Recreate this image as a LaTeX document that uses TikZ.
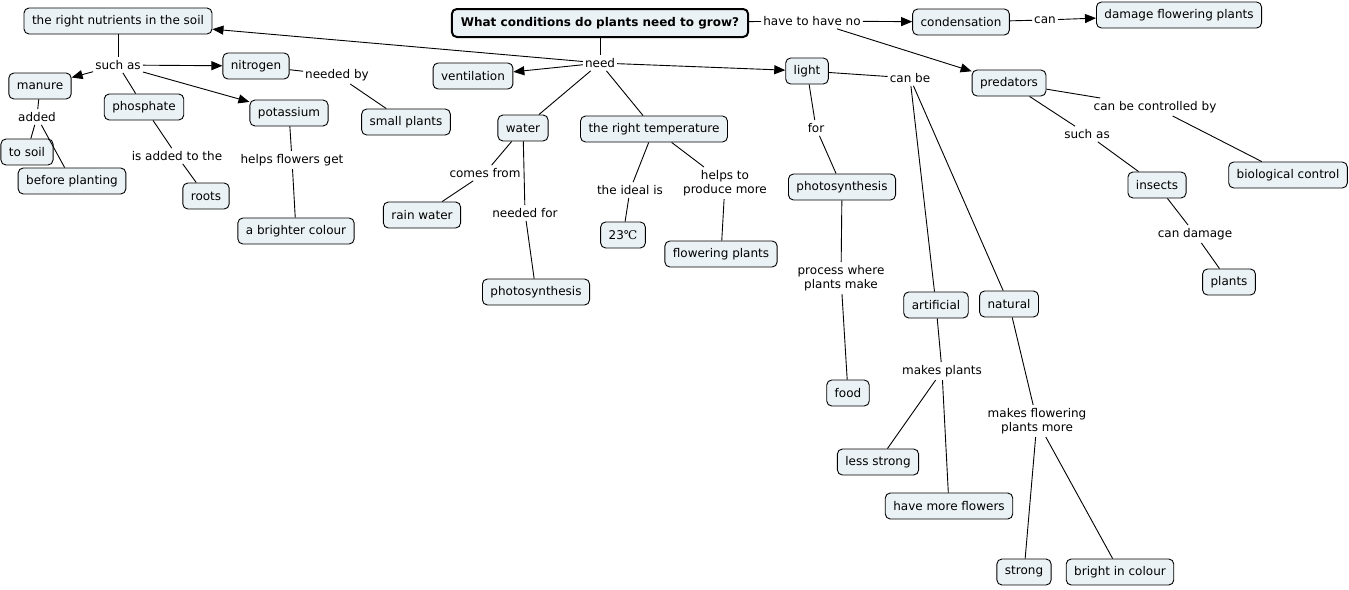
\documentclass[tikz,border=0pt]{standalone}
\usepackage{fontspec}
\setmainfont{DejaVu Sans}
\newfontfamily\degfont{DejaVu Serif}
\usetikzlibrary{arrows.meta}
\definecolor{boxfill}{HTML}{EBF2F5}
\tikzset{
  cbox/.style={draw=black, line width=0.9pt, fill=boxfill, rounded corners=5pt,
    inner xsep=8pt, minimum height=26pt, font=\fontsize{12}{14}\selectfont},
  rootbox/.style={cbox, line width=2pt, font=\fontsize{12}{14}\selectfont\bfseries, inner xsep=9pt, minimum height=28pt},
  lbl/.style={inner xsep=2pt, inner ysep=3pt, align=center, font=\fontsize{12}{14}\selectfont},
  link/.style={draw=black, line width=0.9pt},
  arr/.style={link, -{Triangle[length=11pt,width=9pt]}}
}
\begin{document}
\begin{tikzpicture}[x=1pt,y=-1pt]
\useasboundingbox (0,0) rectangle (1349,589);
% concepts
\node[rootbox] (root) at (600,23) {What conditions do plants need to grow?};
\node[cbox] (nutr) at (118,21) {the right nutrients in the soil};
\node[cbox] (cond) at (961,22) {condensation};
\node[cbox] (dmg) at (1179,15) {damage flowering plants};
\node[cbox] (vent) at (473,76) {ventilation};
\node[cbox] (light) at (807,71) {light};
\node[cbox] (pred) at (1009,83) {predators};
\node[cbox] (insects) at (1157,185) {insects};
\node[cbox] (bio) at (1288,175) {biological control};
\node[cbox] (plants) at (1229,282) {plants};
\node[cbox] (photoL) at (842,187) {photosynthesis};
\node[cbox] (food) at (848,393) {food};
\node[cbox] (art) at (936,305) {artificial};
\node[cbox] (nat) at (1009,304) {natural};
\node[cbox] (less) at (878,462) {less strong};
\node[cbox] (more) at (949,506) {have more flowers};
\node[cbox] (strong) at (1024,572) {strong};
\node[cbox] (bright) at (1120,572) {bright in colour};
\node[cbox] (water) at (523,128) {water};
\node[cbox] (temp) at (654,129) {the right temperature};
\node[cbox] (rain) at (422,215) {rain water};
\node[cbox] (photoW) at (536,292) {photosynthesis};
\node[cbox] (deg) at (623,235) {23{\degfont ℃}};
\node[cbox] (flow) at (721,254) {flowering plants};
\node[cbox] (manure) at (40,86) {manure};
\node[cbox] (nitro) at (256,66) {nitrogen};
\node[cbox] (small) at (406,122) {small plants};
\node[cbox] (phos) at (144,107) {phosphate};
\node[cbox] (pot) at (289,113) {potassium};
\node[cbox] (soil) at (27,152) {to soil};
\node[cbox] (before) at (72,181) {before planting};
\node[cbox] (roots) at (206,196) {roots};
\node[cbox] (bcol) at (296,231) {a brighter colour};
% linking phrases
\node[lbl] (need) at (600,63) {need};
\node[lbl] (hthn) at (812,21) {have to have no};
\node[lbl] (can) at (1045,20) {can};
\node[lbl] (canbe) at (910,78) {can be};
\node[lbl] (cbcb) at (1155,107) {can be controlled by};
\node[lbl] (suchP) at (1087,134) {such as};
\node[lbl] (candmg) at (1195,234) {can damage};
\node[lbl] (for) at (816,128) {for};
\node[lbl] (proc) at (841,278) {process where\\plants make};
\node[lbl] (mkp) at (942,371) {makes plants};
\node[lbl] (mkf) at (1037,421) {makes flowering\\plants more};
\node[lbl] (comes) at (485,173) {comes from};
\node[lbl] (neededfor) at (525,213) {needed for};
\node[lbl] (ideal) at (630,190) {the ideal is};
\node[lbl] (helps) at (725,183) {helps to\\produce more};
\node[lbl] (suchN) at (118,65) {such as};
\node[lbl] (added) at (37,117) {added};
\node[lbl] (neededby) at (337,75) {needed by};
\node[lbl] (isadded) at (177,156) {is added to the};
\node[lbl] (hfg) at (292,160) {helps flowers get};
% connectors
\draw[link] (root) -- (need);
\draw[arr] (need) -- (nutr);
\draw[arr] (need) -- (vent);
\draw[arr] (need) -- (light);
\draw[link] (need) -- (water);
\draw[link] (need) -- (temp);
\draw[link] (root) -- (hthn);
\draw[arr] (hthn) -- (cond);
\draw[arr] (hthn) -- (pred);
\draw[link] (cond) -- (can);
\draw[arr] (can) -- (dmg);
\draw[link] (light) -- (canbe);
\draw[link] (canbe) -- (art);
\draw[link] (canbe) -- (nat);
\draw[link] (light) -- (for);
\draw[link] (for) -- (photoL);
\draw[link] (photoL) -- (proc);
\draw[link] (proc) -- (food);
\draw[link] (art) -- (mkp);
\draw[link] (mkp) -- (less);
\draw[link] (mkp) -- (more);
\draw[link] (nat) -- (mkf);
\draw[link] (mkf) -- (strong);
\draw[link] (mkf) -- (bright);
\draw[link] (pred) -- (cbcb);
\draw[link] (cbcb) -- (bio);
\draw[link] (pred) -- (suchP);
\draw[link] (suchP) -- (insects);
\draw[link] (insects) -- (candmg);
\draw[link] (candmg) -- (plants);
\draw[link] (water) -- (comes);
\draw[link] (comes) -- (rain);
\draw[link] (water) -- (neededfor);
\draw[link] (neededfor) -- (photoW);
\draw[link] (temp) -- (ideal);
\draw[link] (ideal) -- (deg);
\draw[link] (temp) -- (helps);
\draw[link] (helps) -- (flow);
\draw[link] (nutr) -- (suchN);
\draw[arr] (suchN) -- (manure);
\draw[arr] (suchN) -- (nitro);
\draw[arr] (suchN) -- (pot);
\draw[link] (suchN) -- (phos);
\draw[link] (nitro) -- (neededby);
\draw[link] (neededby) -- (small);
\draw[link] (manure) -- (added);
\draw[link] (added) -- (soil);
\draw[link] (added) -- (before);
\draw[link] (phos) -- (isadded);
\draw[link] (isadded) -- (roots);
\draw[link] (pot) -- (hfg);
\draw[link] (hfg) -- (bcol);
\end{tikzpicture}
\end{document}
